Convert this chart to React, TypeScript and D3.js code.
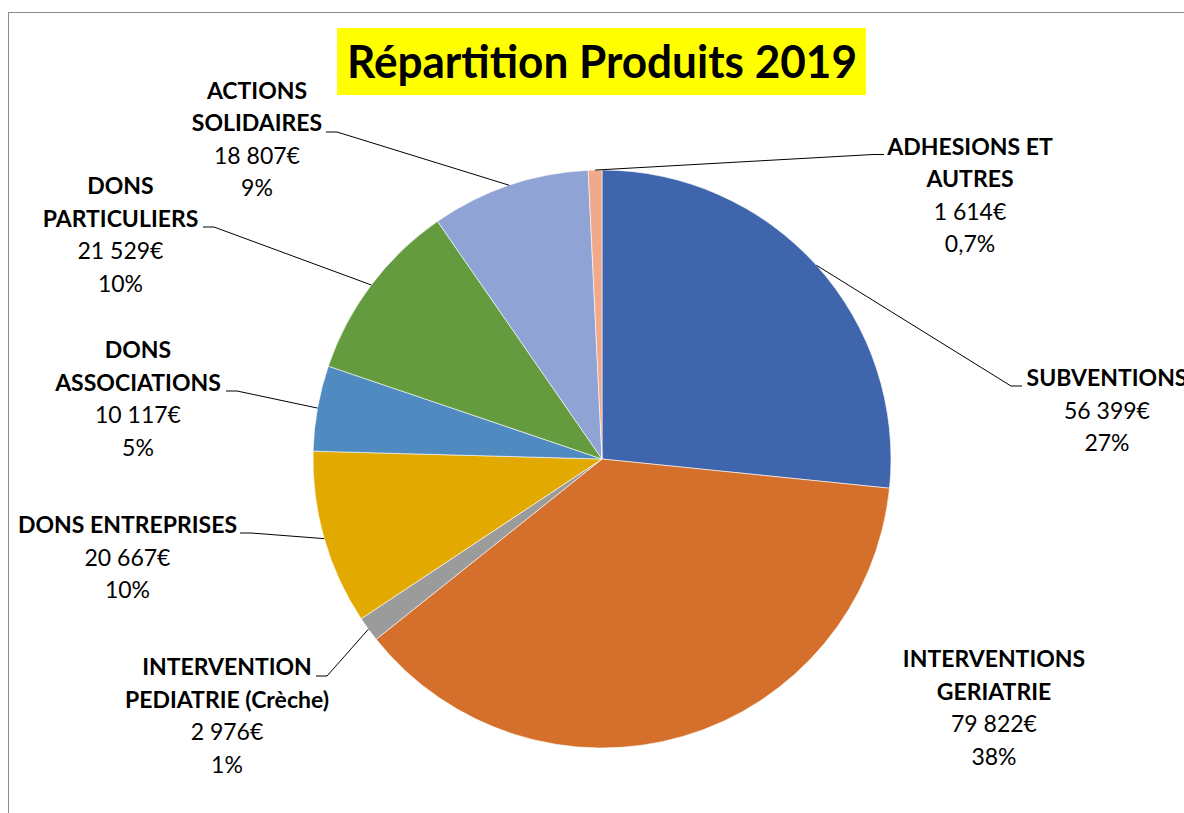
import React from "react";
import * as d3 from "d3";

const categories = [
  "SUBVENTIONS",
  "INTERVENTIONS GERIATRIE",
  "INTERVENTION PEDIATRIE (Crèche)",
  "DONS ENTREPRISES",
  "DONS ASSOCIATIONS",
  "DONS PARTICULIERS",
  "ACTIONS SOLIDAIRES",
  "ADHESIONS ET AUTRES",
];
const values = [56399, 79822, 2976, 20667, 10117, 21529, 18807, 1614];
const valueLabels = ["56 399€", "79 822€", "2 976€", "20 667€", "10 117€", "21 529€", "18 807€", "1 614€"];
const percentLabels = ["27%", "38%", "1%", "10%", "5%", "10%", "9%", "0,7%"];
const nameLines = [
  ["SUBVENTIONS"],
  ["INTERVENTIONS", "GERIATRIE"],
  ["INTERVENTION", "PEDIATRIE (Crèche)"],
  ["DONS ENTREPRISES"],
  ["DONS", "ASSOCIATIONS"],
  ["DONS", "PARTICULIERS"],
  ["ACTIONS", "SOLIDAIRES"],
  ["ADHESIONS ET", "AUTRES"],
];
const colors = ["#3F65AD", "#D4702B", "#9B9B9B", "#E2AA00", "#4F8BC0", "#659B3F", "#8FA3D4", "#F0A98B"];

// layout: label center x, first baseline, leader anchor (null = no leader), side
const labelLayout = [
  { cx: 1107, y: 386, ax: 1022, ay: 386, side: 1 },
  { cx: 994, y: 667, ax: null, ay: null, side: 0 },
  { cx: 227, y: 675, ax: 316, ay: 676, side: -1 },
  { cx: 127.5, y: 533, ax: 240, ay: 533, side: -1 },
  { cx: 138, y: 358, ax: 226, ay: 391, side: -1 },
  { cx: 120.5, y: 194, ax: 203, ay: 227, side: -1 },
  { cx: 257, y: 98.5, ax: 326, ay: 132, side: -1 },
  { cx: 970, y: 154.5, ax: 884, ay: 154.5, side: 1 },
];

const CX = 602;
const CY = 459;
const R = 289;
const LINE_H = 32.6;
const FONT = "Lato, 'Open Sans', sans-serif";

export default function App() {
  const pie = d3.pie<number>().sort(null).value((d) => d)(values);
  const arc = d3.arc<d3.PieArcDatum<number>>().innerRadius(0).outerRadius(R);

  return (
    <div style={{ position: "absolute", left: 0, top: 0 }}>
      <svg width={1184} height={813} style={{ display: "block", background: "#fff" }}>
        <rect x={8.5} y={12.5} width={1300} height={900} fill="#fff" stroke="#8c8c8c" strokeWidth={1} />
        <rect x={337} y={28} width={529} height={67} fill="#FFFF00" />
        <text
          x={347}
          y={78}
          fontFamily={FONT}
          fontWeight={700}
          fontSize={46}
          textLength={510}
          lengthAdjust="spacingAndGlyphs"
          fill="#000"
        >
          Répartition Produits 2019
        </text>
        <g transform={`translate(${CX},${CY})`}>
          {pie.map((p, i) => (
            <path key={categories[i]} d={arc(p) || ""} fill={colors[i]} stroke="#fff" strokeWidth={0.6} />
          ))}
        </g>
        {pie.map((p, i) => {
          const L = labelLayout[i];
          if (L.ax === null) return null;
          const mid = (p.startAngle + p.endAngle) / 2;
          const px = CX + R * Math.sin(mid);
          const py = CY - R * Math.cos(mid);
          const bx = L.ax - L.side * 11;
          return (
            <polyline
              key={"l" + i}
              points={`${L.ax},${L.ay} ${bx},${L.ay} ${px},${py}`}
              fill="none"
              stroke="#000"
              strokeWidth={1}
            />
          );
        })}
        {labelLayout.map((L, i) => {
          const lines = [
            ...nameLines[i].map((t) => ({ t, b: true })),
            { t: valueLabels[i], b: false },
            { t: percentLabels[i], b: false },
          ];
          return (
            <text key={"t" + i} fontFamily={FONT} fontSize={23} textAnchor="middle" fill="#000">
              {lines.map((ln, j) => (
                <tspan key={j} x={L.cx} y={L.y + j * LINE_H} fontWeight={ln.b ? 700 : 400}>
                  {ln.t}
                </tspan>
              ))}
            </text>
          );
        })}
      </svg>
    </div>
  );
}
